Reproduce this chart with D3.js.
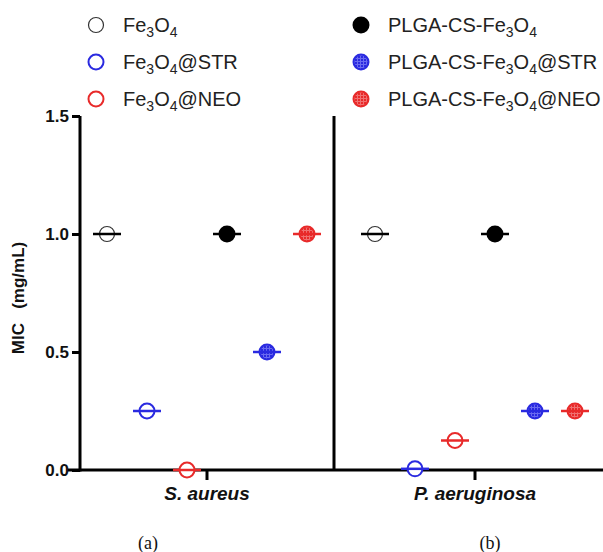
<!DOCTYPE html>
<html>
<head>
<meta charset="utf-8">
<script src="https://cdn.jsdelivr.net/npm/d3@7"></script>
<style>
  body { margin: 0; background: #fff; }
  text { font-family: "Liberation Sans", Arial, sans-serif; }
</style>
</head>
<body>
<script>
const w = 603;
const h = 552;

// data
const categories = ["S. aureus", "P. aeruginosa"];
const seriesNames = ["Fe3O4", "Fe3O4@STR", "Fe3O4@NEO", "PLGA-CS-Fe3O4", "PLGA-CS-Fe3O4@STR", "PLGA-CS-Fe3O4@NEO"];
const seriesColors = ["#333", "#2a2ae0", "#e82a2a", "#000", "#2a2ae0", "#e82a2a"];
const seriesFilled = [false, false, false, true, true, true];
const micSAureus = [1.0, 0.25, 0.0, 1.0, 0.5, 1.0];
const micPAeruginosa = [1.0, 0.005, 0.125, 1.0, 0.25, 0.25];
const yTicks = [0.0, 0.5, 1.0, 1.5];
const panelLabels = ["(a)", "(b)"];

const values = [micSAureus, micPAeruginosa];
var dataset = [];
categories.forEach(function(c, ci) {
  seriesNames.forEach(function(s, si) {
    dataset.push({ category: c, series: s, idx: si, value: values[ci][si] });
  });
});

var svg = d3.select("body").append("svg")
  .attr("width", w)
  .attr("height", h);

// hatched fills for the coated drug-loaded particles
var defs = svg.append("defs");
[["hatchBlue", "#2a2ae0", "#6a6af0"], ["hatchRed", "#e82a2a", "#f07070"]].forEach(function(p) {
  var pat = defs.append("pattern").attr("id", p[0]).attr("patternUnits", "userSpaceOnUse")
    .attr("width", 3).attr("height", 3);
  pat.append("rect").attr("width", 3).attr("height", 3).attr("fill", p[1]);
  pat.append("rect").attr("y", 2).attr("width", 3).attr("height", 1).attr("fill", p[2]);
  pat.append("rect").attr("x", 2).attr("width", 1).attr("height", 3).attr("fill", p[2]);
});
function fillFor(i) {
  if (!seriesFilled[i]) return "#fff";
  if (i === 4) return "url(#hatchBlue)";
  if (i === 5) return "url(#hatchRed)";
  return seriesColors[i];
}

var y = d3.scaleLinear().domain([0, 1.5]).range([470, 116]);
var x = d3.scaleBand().domain(categories).range([73, 609]);
var xInner = d3.scalePoint().domain(seriesNames).range([-100, 100]);

// y axis
var yAxis = d3.axisLeft(y).tickValues(yTicks).tickFormat(d3.format(".1f")).tickSize(8).tickPadding(3);
var gy = svg.append("g").attr("transform", "translate(80,0)").call(yAxis);
gy.select(".domain").attr("stroke-width", 3).attr("d", "M0," + y(1.5) + "V" + (y(0) + 1.5));
gy.selectAll(".tick line").attr("stroke-width", 3);
gy.selectAll(".tick text").attr("font-size", 17).attr("font-weight", "bold")
  .attr("font-family", "'Liberation Sans', Arial, sans-serif").attr("fill", "#111");

// x axis
var xAxis = d3.axisBottom(x).tickSize(10).tickPadding(6);
var gx = svg.append("g").attr("transform", "translate(0," + y(0) + ")").call(xAxis);
gx.select(".domain").attr("stroke-width", 3).attr("d", "M68,0H603");
gx.selectAll(".tick line").attr("stroke-width", 3);
gx.selectAll(".tick text").attr("font-size", 19).attr("font-weight", "bold").attr("font-style", "italic")
  .attr("font-family", "'Liberation Sans', Arial, sans-serif").attr("fill", "#111").attr("dy", "0.75em");

// divider between panels
var xDiv = x(categories[1]) - 7;
svg.append("line")
  .attr("x1", xDiv).attr("x2", xDiv)
  .attr("y1", y(1.5)).attr("y2", y(0))
  .attr("stroke", "#000").attr("stroke-width", 3);

// y label
svg.append("text")
  .attr("transform", "translate(24,298) rotate(-90)")
  .attr("text-anchor", "middle")
  .attr("font-size", 17).attr("font-weight", "bold")
  .attr("fill", "#111")
  .attr("xml:space", "preserve")
  .text("MIC   (mg/mL)");

// points
var pts = svg.append("g").selectAll("g.pt")
  .data(dataset)
  .enter()
  .append("g")
  .attr("transform", function(d) {
    return "translate(" + (x(d.category) + x.bandwidth() / 2 + xInner(d.series)) + "," + y(d.value) + ")";
  });

pts.append("circle")
  .attr("r", 7.5)
  .attr("fill", function(d) { return fillFor(d.idx); })
  .attr("stroke", function(d) { return seriesColors[d.idx]; })
  .attr("stroke-width", function(d) { return d.idx === 0 ? 1.2 : 2; });

pts.append("line")
  .attr("x1", -14).attr("x2", 14)
  .attr("stroke", function(d) { return d.idx === 0 ? "#000" : seriesColors[d.idx]; })
  .attr("stroke-width", 2.5);

// legend
var legend = svg.append("g").selectAll("g.lg")
  .data(seriesNames)
  .enter()
  .append("g")
  .attr("transform", function(d, i) {
    var col = i < 3 ? 0 : 1;
    var row = i % 3;
    return "translate(" + (col === 0 ? 96 : 361) + "," + (25 + row * 37) + ")";
  });

legend.append("circle")
  .attr("r", 7.5)
  .attr("fill", function(d, i) { return fillFor(i); })
  .attr("stroke", function(d, i) { return seriesColors[i]; })
  .attr("stroke-width", function(d, i) { return i === 0 ? 1.2 : 2; });

var lt = legend.append("text")
  .attr("x", 27)
  .attr("y", 7)
  .attr("font-size", 20)
  .attr("fill", "#222");

lt.each(function(d) {
  var t = d3.select(this);
  var parts = d.split("Fe3O4");
  t.append("tspan").text(parts[0] + "Fe");
  t.append("tspan").attr("font-size", 14).attr("dy", 5).text("3");
  t.append("tspan").attr("dy", -5).text("O");
  t.append("tspan").attr("font-size", 14).attr("dy", 5).text("4");
  t.append("tspan").attr("dy", -5).text(parts[1]);
});

// panel labels
svg.selectAll("text.panel")
  .data(panelLabels)
  .enter()
  .append("text")
  .attr("class", "panel")
  .attr("x", function(d, i) { return [148, 490][i]; })
  .attr("y", 549)
  .attr("text-anchor", "middle")
  .attr("font-size", 18)
  .style("font-family", "'Liberation Serif', 'Times New Roman', serif")
  .attr("fill", "#111")
  .text(function(d) { return d; });
</script>
</body>
</html>
